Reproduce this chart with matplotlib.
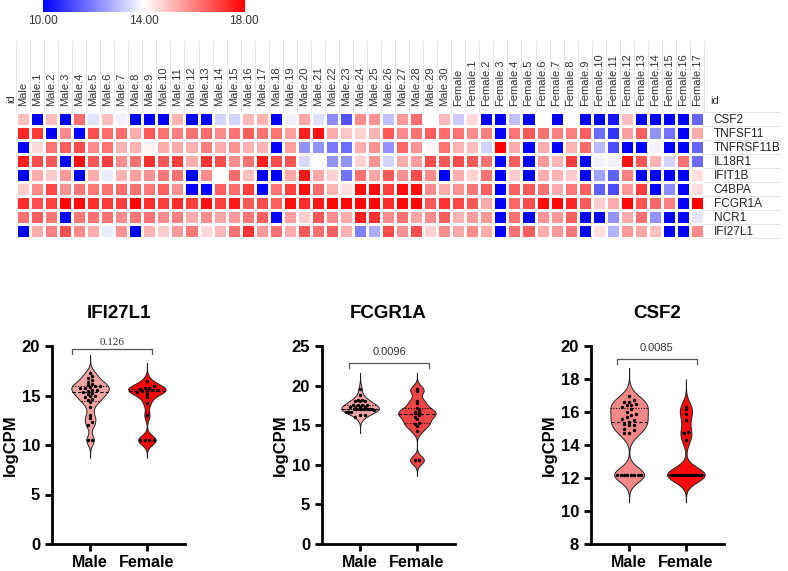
import numpy as np
import matplotlib
matplotlib.use("Agg")
import matplotlib.pyplot as plt
from matplotlib.colors import LinearSegmentedColormap

plt.rcParams['font.family'] = ['Liberation Sans', 'DejaVu Sans']

# ---------------- heatmap data ----------------
genes = ['CSF2', 'TNFSF11', 'TNFRSF11B', 'IL18R1', 'IFIT1B', 'C4BPA', 'FCGR1A', 'NCR1', 'IFI27L1']
samples = ['Male'] + ['Male.%d' % i for i in range(1, 31)] + ['Female'] + ['Female.%d' % i for i in range(1, 18)]

hm_CSF2 = [15.0, 10, 15.0, 10, 16.3, 13.5, 15.0, 13.8, 10, 10, 10, 15.2, 10, 10, 13.3, 13.3, 15.1, 15.2, 10, 13.8,
           15.4, 13.5, 12.2, 11.3, 15.8, 15.7, 13.0, 15.6, 16.3, 14.0, 15.1, 13.2, 14.6, 10, 10, 13.0, 10, 14.0, 10, 14.0,
           10, 10, 10.4, 15.0, 10, 10, 10, 10, 11.6]
hm_TNFSF11 = [17.4, 17.1, 10, 15.8, 10, 16.8, 16.3, 16.3, 15.3, 16.6, 16.2, 16.0, 16.2, 16.3, 15.8, 16.2, 16.5, 16.2, 16.2, 15.5,
              17.5, 17.7, 15.3, 14.9, 14.7, 15.2, 16.6, 15.8, 16.2, 16.5, 16.3, 16.2, 15.8, 16.0, 10, 16.2, 16.6, 16.2, 16.0, 16.0,
              16.5, 11.7, 10.8, 15.5, 16.5, 12.3, 11.8, 10, 15.3]
hm_TNFRSF11B = [10, 14.6, 16.2, 16.5, 16.8, 15.8, 16.2, 15.2, 15.2, 14.2, 15.3, 15.3, 15.2, 16.0, 15.3, 15.7, 15.2, 15.2, 10, 15.5,
                12.3, 12.3, 11.9, 11.7, 15.3, 15.7, 12.3, 16.4, 15.7, 14.1, 16.2, 15.2, 15.0, 13.3, 18.0, 15.3, 10, 15.3, 10, 15.2,
                16.3, 12.9, 11.2, 10, 10, 13.8, 10, 10, 11.6]
hm_IL18R1 = [17.5, 16.8, 16.6, 10, 17.8, 16.6, 17.0, 15.8, 16.2, 17.2, 16.6, 17.0, 15.3, 17.2, 16.8, 15.8, 16.2, 17.5, 16.8, 16.7,
             13.4, 14.0, 12.3, 12.3, 14.7, 15.7, 13.3, 15.3, 15.5, 16.8, 16.6, 16.8, 16.6, 16.2, 10, 16.5, 10, 15.6, 15.2, 17.0,
             10, 13.8, 13.8, 17.7, 16.6, 15.2, 13.3, 16.2, 11.7]
hm_IFIT1B = [10, 15.3, 14.8, 15.6, 10, 15.3, 13.7, 15.2, 15.5, 15.7, 16.1, 16.2, 10, 15.8, 14.0, 16.3, 15.0, 10, 10, 15.4,
             17.6, 15.4, 14.7, 11.8, 16.2, 15.4, 16.6, 15.7, 16.8, 15.8, 10, 15.3, 14.7, 16.2, 10, 14.8, 10, 15.3, 15.2, 14.8,
             10, 12.5, 11.5, 16.0, 10, 10, 10, 10, 14.5]
hm_C4BPA = [14.8, 15.8, 16.9, 15.7, 16.1, 16.1, 16.2, 16.3, 16.2, 16.1, 16.5, 15.7, 10, 10, 16.5, 16.3, 17.0, 10, 16.2, 17.0,
            17.8, 16.3, 15.2, 14.5, 17.8, 17.8, 17.0, 17.8, 17.8, 15.8, 15.3, 15.7, 16.1, 16.5, 10, 16.5, 16.6, 16.2, 15.3, 16.1,
            16.5, 11.5, 11.2, 15.6, 17.0, 10, 12.2, 10, 14.5]
hm_FCGR1A = [17.3, 16.8, 17.0, 17.9, 17.8, 17.3, 17.1, 17.0, 17.9, 17.3, 17.0, 17.3, 17.0, 17.8, 17.0, 17.6, 16.6, 16.8, 16.5, 17.8,
             17.3, 17.6, 17.9, 17.9, 17.9, 17.9, 17.3, 17.9, 17.9, 16.6, 17.2, 16.9, 16.6, 15.3, 10, 16.4, 16.8, 17.8, 17.9, 17.4,
             16.6, 14.8, 15.3, 17.9, 16.7, 16.4, 16.0, 10, 18.0]
hm_NCR1 = [16.2, 16.5, 16.1, 10, 16.1, 16.2, 16.2, 15.8, 16.1, 16.2, 15.8, 16.0, 15.3, 15.8, 15.4, 15.6, 16.1, 16.5, 10, 15.5,
           14.8, 16.6, 15.8, 15.3, 17.5, 17.2, 15.8, 16.2, 15.4, 15.8, 16.5, 15.2, 15.5, 15.6, 10, 16.2, 10, 15.7, 15.6, 16.5,
           10, 10, 12.3, 15.3, 16.2, 12.3, 10, 10, 13.6]
hm_IFI27L1 = [10, 15.3, 16.0, 16.7, 15.8, 15.3, 13.7, 15.7, 10, 15.2, 14.8, 15.6, 16.1, 14.6, 15.1, 16.2, 17.2, 15.6, 16.2, 15.3,
              16.6, 16.2, 16.5, 15.2, 12.0, 12.7, 16.8, 15.7, 16.8, 14.7, 15.8, 15.4, 15.8, 15.3, 10, 16.2, 16.5, 15.3, 15.6, 16.1,
              10, 14.5, 12.8, 15.6, 15.4, 15.0, 10, 10, 15.8]

# ---------------- violin data (logCPM) ----------------
groups = ['Male', 'Female']
ifi_male = [10.5, 10.5, 12.0, 12.3, 12.7, 13.0, 13.8, 14.3, 14.5, 14.6, 14.8, 15.0, 15.0, 15.2, 15.3, 15.4,
            15.5, 15.6, 15.6, 15.8, 15.8, 15.9, 16.0, 16.0, 16.1, 16.2, 16.4, 16.6, 16.8, 17.0, 17.3]
ifi_female = [10.5, 10.5, 10.5, 10.5, 13.0, 14.2, 14.8, 15.2, 15.4, 15.5, 15.5, 15.6, 15.6, 15.7, 15.8, 15.8, 16.0, 16.5]
fcg_male = [16.0, 16.3, 16.3, 16.7, 16.7, 16.7, 17.0, 17.0, 17.0, 17.0, 17.0, 17.0, 17.0, 17.0, 17.3, 17.3,
            17.3, 17.3, 17.6, 17.6, 17.6, 17.6, 18.0, 18.0, 18.0, 18.2, 18.2, 18.8, 17.1, 16.9, 19.6]
fcg_female = [10.6, 10.6, 14.3, 14.9, 15.2, 15.3, 15.8, 16.0, 16.3, 16.5, 16.6, 16.7, 16.9, 17.2, 17.8, 18.1, 19.3, 19.6]
csf_male = [12.2, 12.2, 12.2, 12.2, 12.2, 12.2, 12.2, 12.2, 14.7, 14.7, 14.9, 15.0, 15.2, 15.2, 15.3, 15.4,
            15.5, 15.6, 15.7, 15.8, 15.9, 16.0, 16.2, 16.3, 16.4, 16.4, 16.5, 16.6, 16.6, 16.7, 17.0]
csf_female = [12.2, 12.2, 12.2, 12.2, 12.2, 12.2, 12.2, 12.2, 12.2, 12.2, 12.2, 14.3, 14.7, 14.8, 15.5, 15.9, 16.2, 16.3]
p_values = ['0.126', '0.0096', '0.0085']

W, H = 788, 571
fig = plt.figure(figsize=(W / 100, H / 100), dpi=100)

def fx(px):
    return px / W

def fy(py):
    return 1 - py / H

# ---------------- heatmap ----------------
mat = np.array([hm_CSF2, hm_TNFSF11, hm_TNFRSF11B, hm_IL18R1, hm_IFIT1B, hm_C4BPA, hm_FCGR1A, hm_NCR1, hm_IFI27L1])
cmap = LinearSegmentedColormap.from_list('bwr2', ['#0000ff', '#ffffff', '#ff0000'])

axh = fig.add_axes([fx(16), fy(238), fx(688), 126 / H])
nr, nc = mat.shape
axh.pcolormesh(np.arange(nc + 1) - 0.5, np.arange(nr + 1) - 0.5, mat, cmap=cmap, vmin=10, vmax=18,
               edgecolors='white', linewidth=1.0)
axh.set_xlim(-0.5, nc - 0.5)
axh.set_ylim(nr - 0.5, -0.5)
for s in axh.spines.values():
    s.set_visible(False)
axh.xaxis.tick_top()
axh.set_xticks(range(nc))
axh.set_xticklabels(samples, rotation=90, fontsize=8, color='#333333')
axh.yaxis.tick_right()
axh.set_yticks(range(nr))
axh.set_yticklabels(genes, fontsize=8.5, color='#222222')
axh.tick_params(length=0)
axh.tick_params(axis='x', pad=4)
axh.tick_params(axis='y', pad=7)

# faint table lines around the labels
for k in range(nc + 1):
    axh.plot([k - 0.5, k - 0.5], [-0.5, -5.6], color='#e4e4e4', lw=0.7, clip_on=False, zorder=0)
for r in range(nr + 1):
    axh.plot([nc - 0.5, nc + 4.9], [r - 0.5, r - 0.5], color='#e4e4e4', lw=0.7, clip_on=False, zorder=0)
fig.text(fx(11), fy(99), 'id', rotation=90, fontsize=8, color='#333333', ha='center', va='center')
fig.text(fx(710), fy(101), 'id', fontsize=8, color='#333333', ha='left', va='center')

# colour bar
axc = fig.add_axes([fx(43), fy(12), fx(201), 12 / H])
axc.imshow(np.linspace(10, 18, 256)[None, :], aspect='auto', cmap=cmap, vmin=10, vmax=18,
           extent=[10, 18, 0, 1])
axc.set_xticks([])
axc.set_yticks([])
for s in axc.spines.values():
    s.set_visible(False)
for v in [10, 14, 18]:
    fig.text(fx(43 + (v - 10) / 8 * 201), fy(21), '%.2f' % v, fontsize=8.5, color='#333333', ha='center', va='center')

# ---------------- violins ----------------
def draw_violin(ax, vals, pos, color, bw, half=0.33):
    vals = np.asarray(vals, dtype=float)
    y = np.linspace(vals.min() - 4 * bw, vals.max() + 4 * bw, 600)
    dens = np.exp(-0.5 * ((y[:, None] - vals[None, :]) / bw) ** 2).sum(axis=1)
    w = (dens / dens.max()) ** 0.9 * half
    ax.fill_betweenx(y, pos - w, pos + w, facecolor=color, edgecolor='#222222', linewidth=0.7, zorder=2)
    q1, med, q3 = np.percentile(vals, [25, 50, 75])
    for q, ls in ((q1, (0, (1, 1.5))), (med, (0, (3, 2))), (q3, (0, (1, 1.5)))):
        wq = np.interp(q, y, w)
        ax.plot([pos - wq, pos + wq], [q, q], color='black', linestyle=ls, lw=0.8, zorder=3)
    # simple beeswarm: points in the same y-bin are spread sideways, kept inside the violin
    bins = np.round(vals / (bw * 0.75))
    offs = np.zeros(len(vals))
    for b in np.unique(bins):
        idx = np.where(bins == b)[0]
        n = len(idx)
        if n > 1:
            wl = np.interp(vals[idx].mean(), y, w)
            step = min(0.085, 1.6 * wl / (n - 1))
            offs[idx] = (np.arange(n) - (n - 1) / 2) * step
    ax.scatter(pos + offs, vals, s=6, color='black', zorder=4, linewidths=0)


panels = [
    (52, 'IFI27L1', ifi_male, ifi_female, '#f6a4a4', '#ff0000', (0, 20), 5, 0.45,
     (0.68, 2.09, 19.7, 19.2, 20.4), 'Liberation Serif'),
    (322, 'FCGR1A', fcg_male, fcg_female, '#f5a5a5', '#f24545', (0, 25), 5, 0.5,
     (0.81, 2.21, 22.8, 22.2, 24.2), 'Liberation Sans'),
    (591, 'CSF2', csf_male, csf_female, '#f38888', '#fb0a0a', (8, 20), 2, 0.42,
     (0.79, 2.19, 19.2, 18.9, 19.9), 'Liberation Sans'),
]

for (left, title, male, female, cm, cf, ylim, step, bw, br, pfont), pv in zip(panels, p_values):
    ax = fig.add_axes([fx(left), fy(544), fx(133), 198 / H])
    draw_violin(ax, male, 1, cm, bw)
    draw_violin(ax, female, 2, cf, bw)
    ax.set_xlim(0.33, 2.67)
    ax.set_ylim(*ylim)
    ax.set_yticks(np.arange(ylim[0], ylim[1] + 0.1, step))
    ax.set_xticks([1, 2])
    ax.set_xticklabels(groups)
    for s in ['top', 'right']:
        ax.spines[s].set_visible(False)
    for s in ['left', 'bottom']:
        ax.spines[s].set_linewidth(2)
    ax.tick_params(width=2, length=5)
    ax.tick_params(axis='y', labelsize=12)
    ax.tick_params(axis='x', labelsize=11.5, pad=3)
    for lab in ax.get_xticklabels() + ax.get_yticklabels():
        lab.set_fontweight('bold')
    ax.set_ylabel('logCPM', fontsize=12, fontweight='bold', va='center')
    ax.yaxis.set_label_coords(-42 / 133, 0.5)
    ax.text(0.5, 1.165, title, transform=ax.transAxes, ha='center', va='center', fontsize=13.5, fontweight='bold')
    x0, x1, ytop, yarm, ytxt = br
    ax.plot([x0, x0, x1, x1], [yarm, ytop, ytop, yarm], color='#555555', lw=0.9, clip_on=False)
    ax.text((x0 + x1) / 2, ytxt, pv, ha='center', va='center', fontsize=8, color='#333333',
            family=pfont, clip_on=False)

fig.savefig('out.png', dpi=100)
